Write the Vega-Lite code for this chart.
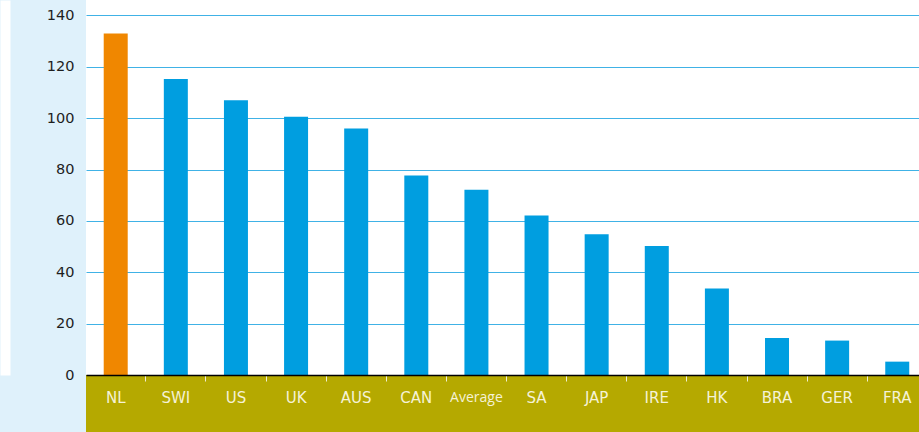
{
  "$schema": "https://vega.github.io/schema/vega-lite/v6.json",
  "width": 833,
  "height": 375,
  "autosize": {"type": "none"},
  "padding": {"left": 86, "top": 0, "right": 0, "bottom": 57},
  "background": "#dff1fb",
  "config": {"view": {"stroke": null, "fill": "#ffffff"}},
  "data": {
    "values": [
      {"country": "NL", "value": 133.0},
      {"country": "SWI", "value": 115.2},
      {"country": "US", "value": 107.0},
      {"country": "UK", "value": 100.5},
      {"country": "AUS", "value": 96.0},
      {"country": "CAN", "value": 77.7},
      {"country": "Average", "value": 72.1},
      {"country": "SA", "value": 62.1},
      {"country": "JAP", "value": 54.8},
      {"country": "IRE", "value": 50.2},
      {"country": "HK", "value": 33.7},
      {"country": "BRA", "value": 14.4},
      {"country": "GER", "value": 13.4},
      {"country": "FRA", "value": 5.2}
    ]
  },
  "layer": [
    {
      "data": {"values": [{}]},
      "mark": {"type": "rect", "color": "#b5a900"},
      "encoding": {
        "y": {"datum": 0, "type": "quantitative", "scale": {"domain": [0, 146], "nice": false, "zero": false}},
        "y2": {"datum": -22.5}
      }
    },
    {
      "mark": {"type": "bar"},
      "encoding": {
        "x": {
          "field": "country",
          "type": "nominal",
          "sort": null,
          "scale": {"paddingInner": 0.6008, "paddingOuter": 0.2284, "align": 0.645, "round": false},
          "axis": {
            "title": null,
            "labelAngle": 0,
            "domainColor": "#000000",
            "domainWidth": 1.5,
            "tickSize": 6,
            "tickWidth": 1,
            "tickColor": {"condition": {"test": "datum.value === 'NL'", "value": "transparent"}, "value": "#f3f0d0"},
            "bandPosition": -0.75,
            "labelColor": "#f5f2d6",
            "labelFont": {"condition": {"test": "datum.value === 'Average'", "value": "Open Sans"}, "value": "DejaVu Sans"},
            "labelFontSize": {"condition": {"test": "datum.value === 'Average'", "value": 14}, "value": 15},
            "labelPadding": 9,
            "zindex": 1
          }
        },
        "y": {
          "field": "value",
          "type": "quantitative",
          "scale": {"domain": [0, 146], "nice": false, "zero": false},
          "axis": {
            "title": null,
            "values": [0, 20, 40, 60, 80, 100, 120, 140],
            "grid": true,
            "gridColor": "#40b2e6",
            "gridWidth": 1,
            "ticks": false,
            "tickSize": 0,
            "domain": true,
            "domainColor": "#ffffff",
            "domainWidth": 10,
            "offset": 81,
            "labelPadding": -69,
            "labelFont": "DejaVu Sans",
            "labelFontSize": 14.5,
            "labelColor": "#1e1e1e"
          }
        },
        "color": {
          "condition": {"test": "datum.country === 'NL'", "value": "#f08700"},
          "value": "#009ee0"
        }
      }
    }
  ]
}
